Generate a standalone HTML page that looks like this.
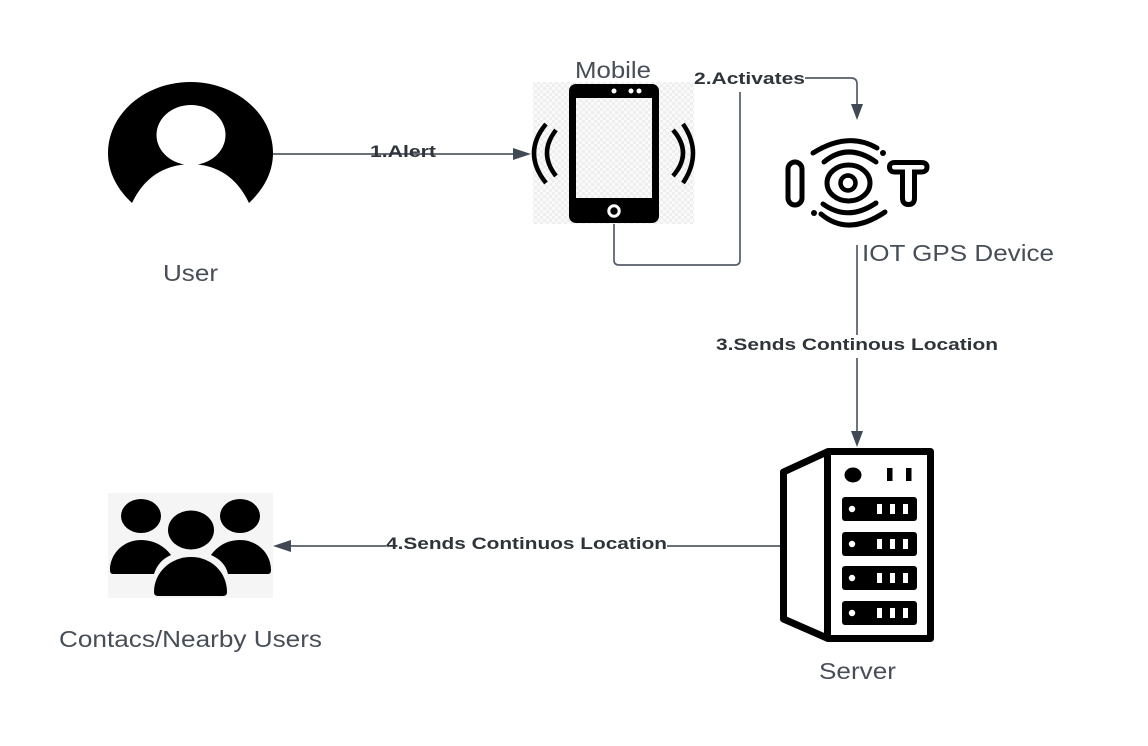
<!DOCTYPE html>
<html>
<head>
<meta charset="utf-8">
<style>
html,body{margin:0;padding:0;background:#fff;width:1148px;height:746px;overflow:hidden}
svg{display:block;filter:blur(.35px)}
text{font-family:"Liberation Sans",sans-serif;fill:#484e57}
.b{font-weight:bold;font-size:17px;fill:#2f343a}
.t{font-size:23.500px}
.c{fill:none;stroke:#565d67;stroke-width:1.700}
</style>
</head>
<body>
<svg width="1148" height="746" viewBox="0 0 1148 746" xmlns="http://www.w3.org/2000/svg">
<defs>
<pattern id="ck" width="6" height="6" patternUnits="userSpaceOnUse">
<rect width="6" height="6" fill="#fafafa"/>
<rect width="3" height="3" fill="#eeeeee"/>
<rect x="3" y="3" width="3" height="3" fill="#eeeeee"/>
</pattern>
</defs>
<rect width="1148" height="746" fill="#fff"/>

<!-- connectors -->
<path class="c" d="M273 154H514"/>
<path d="M531 154L513 148V160Z" fill="#414954"/>
<path class="c" d="M614 223V260Q614 265 619 265H735Q740 265 740 260V92"/>
<path class="c" d="M805 78H851Q857 78 857 84V104"/>
<path d="M857 120L851 104H863Z" fill="#414954"/>
<path class="c" d="M857 245V335M857 358V432"/>
<path d="M857 447L851 431H863Z" fill="#414954"/>
<path class="c" d="M780 546H667M386 546H290"/>
<path d="M273 546L291 540V552Z" fill="#414954"/>

<!-- user -->
<path d="M132 203C116 188 108 171 108 153C108 114 145 82 190.500 82C236 82 273 114 273 153C273 171 265 188 249 203Q231 165 191 164Q150 165 132 203Z" fill="#000"/>
<ellipse cx="191" cy="135" rx="34.500" ry="30" fill="#fff"/>

<!-- mobile -->
<rect x="533" y="82" width="161" height="142" fill="url(#ck)"/>
<rect x="569" y="84" width="90" height="139" rx="7" fill="#000"/>
<rect x="576" y="98" width="76" height="100" fill="url(#ck)"/>
<circle cx="614" cy="211" r="5.200" fill="none" stroke="#fff" stroke-width="3"/>
<circle cx="614" cy="91" r="2.500" fill="#fff"/><circle cx="631" cy="91" r="2.500" fill="#fff"/><circle cx="639" cy="91" r="2.500" fill="#fff"/>
<g fill="none" stroke="#000" stroke-width="4.500">
<path d="M546 124Q522 153 546 183"/>
<path d="M556 130Q538 153 556 176"/>
<path d="M683 124Q703 153 683 183"/>
<path d="M673 130Q693 153 673 176"/>
</g>

<!-- IOT -->
<g fill="none" stroke="#000" stroke-width="5" stroke-linecap="round">
<rect x="788" y="162" width="14" height="43" rx="7"/>
<path d="M889.500 167Q889.500 162.500 895 162.500H921Q927 162.500 927 167Q927 172 921 172H914.500V198Q914.500 204.500 908.500 204.500Q902.500 204.500 902.500 198V172H895Q889.500 172 889.500 167Z"/>
<circle cx="848" cy="183" r="7.500" stroke-width="4.500"/>
<ellipse cx="848.500" cy="183" rx="21.500" ry="18"/>
<path d="M813 153Q848 131 877 148"/>
<path d="M824 162Q848 142 876 162"/>
<path d="M823 204Q848 222 876 203"/>
<path d="M821 214Q848 237 885 212"/>
</g>
<circle cx="883" cy="153" r="3" fill="#000"/>
<circle cx="814" cy="213" r="3" fill="#000"/>

<!-- server -->
<path d="M783.500 472L828 451.500H930.500V638.500H828L783.500 619Z" fill="#fff" stroke="#000" stroke-width="7" stroke-linejoin="round"/>
<rect x="824" y="450" width="7" height="190" fill="#000"/>
<ellipse cx="853" cy="475" rx="8.500" ry="7.500" fill="#000"/>
<rect x="887" y="468" width="5.500" height="13" fill="#000"/>
<rect x="906" y="468" width="5.500" height="13" fill="#000"/>
<g fill="#000">
<rect x="842" y="497" width="75" height="24" rx="3"/>
<rect x="842" y="532" width="75" height="24" rx="3"/>
<rect x="842" y="566" width="75" height="24" rx="3"/>
<rect x="842" y="601" width="75" height="24" rx="3"/>
</g>
<g fill="#fff">
<circle cx="852" cy="509" r="3.200"/><circle cx="852" cy="544" r="3.200"/><circle cx="852" cy="578" r="3.200"/><circle cx="852" cy="613" r="3.200"/>
<rect x="877" y="504" width="5" height="10"/><rect x="890" y="504" width="5" height="10"/><rect x="903" y="504" width="5" height="10"/>
<rect x="877" y="539" width="5" height="10"/><rect x="890" y="539" width="5" height="10"/><rect x="903" y="539" width="5" height="10"/>
<rect x="877" y="573" width="5" height="10"/><rect x="890" y="573" width="5" height="10"/><rect x="903" y="573" width="5" height="10"/>
<rect x="877" y="608" width="5" height="10"/><rect x="890" y="608" width="5" height="10"/><rect x="903" y="608" width="5" height="10"/>
</g>

<!-- people -->
<rect x="108" y="493" width="165" height="105" fill="#f5f5f5"/>
<ellipse cx="141" cy="516" rx="20" ry="17" fill="#000"/>
<ellipse cx="240" cy="516" rx="20" ry="17" fill="#000"/>
<ellipse cx="191" cy="530" rx="23" ry="19.500" fill="#000"/>
<path d="M113 574Q110 574 110 570C110 553 124 540 141 540C155 540 165 547 171 555C162 559 157 565 154 574Z" fill="#000"/>
<path d="M268 574Q271 574 271 570C271 553 257 540 240 540C226 540 217 547 211 555C220 559 226 565 228 574Z" fill="#000"/>
<path d="M158 596Q154 596 154 592C154 572 171 557 191 557C211 557 227 572 227 592Q227 596 223 596Z" fill="#000"/>

<!-- labels -->
<text class="t" x="575" y="78" textLength="76" lengthAdjust="spacingAndGlyphs">Mobile</text>
<text class="t" x="163" y="281" textLength="55" lengthAdjust="spacingAndGlyphs">User</text>
<text class="t" x="862" y="261" textLength="192" lengthAdjust="spacingAndGlyphs">IOT GPS Device</text>
<text class="t" x="819" y="679" textLength="77" lengthAdjust="spacingAndGlyphs">Server</text>
<text class="t" x="59" y="647" textLength="263" lengthAdjust="spacingAndGlyphs">Contacs/Nearby Users</text>
<text class="b" x="370" y="157" textLength="66" lengthAdjust="spacingAndGlyphs">1.Alert</text>
<text class="b" x="694" y="84" textLength="111" lengthAdjust="spacingAndGlyphs">2.Activates</text>
<text class="b" x="716" y="350" textLength="282" lengthAdjust="spacingAndGlyphs">3.Sends Continous Location</text>
<text class="b" x="386" y="549" textLength="281" lengthAdjust="spacingAndGlyphs">4.Sends Continuos Location</text>
</svg>
</body>
</html>
